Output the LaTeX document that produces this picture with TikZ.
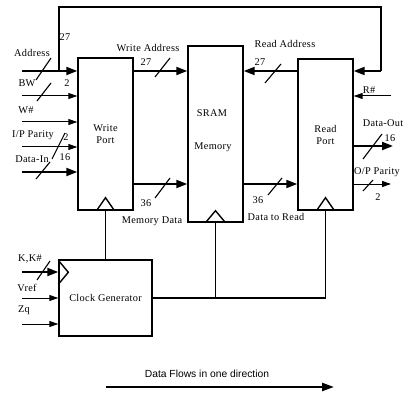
\documentclass[tikz,border=0pt]{standalone}
\usepackage{fontspec}
\setmainfont{Liberation Serif}[LetterSpace=3]
\newfontfamily\flowfont{Liberation Sans}
\usetikzlibrary{arrows.meta,calc}
\newcommand{\lblfont}{\fontsize{10.3}{11}\selectfont}
\begin{document}
\begin{tikzpicture}[x=1pt,y=-1pt,
  blockbox/.style={draw, line width=1.4pt, inner sep=0pt, align=center, font=\lblfont},
  lbl/.style={font=\lblfont, inner sep=0pt},
  bus/.style={line width=2.1pt, -{Triangle[length=11pt,width=8pt]}},
  busplain/.style={line width=2.1pt},
  sig/.style={line width=1pt, -{Triangle[length=9pt,width=6pt]}},
  slash/.style={line width=1.1pt},
  clk/.style={line width=1.4pt}]
\useasboundingbox (0,0) rectangle (407,393);

% blocks
\node[blockbox, minimum width=55pt, minimum height=152pt] (wp) at (105.5,134) {Write\\[1pt]Port};
\node[blockbox, minimum width=55pt, minimum height=176pt] (sram) at (215.5,134) {};
\node[lbl] (sramA) at (212,113) {SRAM};
\node[lbl] (sramB) at (213,147) {Memory};
\node[blockbox, minimum width=55pt, minimum height=151pt] (rp) at (325.5,134.5) {Read\\[1pt]Port};
\node[blockbox, minimum width=93pt, minimum height=76pt] (cg) at (105.5,298) {Clock Generator};

% clock markers
\draw[clk] ($(wp.south)+(-9,0)$) -- ($(wp.south)+(0,-13)$) -- ($(wp.south)+(9,0)$);
\draw[clk] ($(sram.south)+(-10,0)$) -- ($(sram.south)+(0,-12)$) -- ($(sram.south)+(10,0)$);
\draw[clk] ($(rp.south)+(-9,0)$) -- ($(rp.south)+(0,-13)$) -- ($(rp.south)+(9,0)$);
\draw[clk] ($(cg.north west)+(0,1)$) -- ($(cg.north west)+(10,13)$) -- ($(cg.north west)+(0,25)$);

% coordinates
\coordinate (addrIn) at (22,71);
\coordinate (fbA) at (59,71);
\coordinate (fbTop) at (59,7);
\coordinate (fbR) at (381,7);
\coordinate (bwIn) at (22,96);
\coordinate (wIn) at (22,122);
\coordinate (ipIn) at (22,147);
\coordinate (diIn) at (22,172);
\coordinate (mdy) at (0,184);
\coordinate (rIn) at (391,96);
\coordinate (doOut) at (393,146);
\coordinate (opOut) at (391,184);
\coordinate (kIn) at (22,272);
\coordinate (vIn) at (22,298);
\coordinate (zIn) at (22,324);
\coordinate (flowA) at (106,387);
\coordinate (flowB) at (334,387);

% left inputs
\draw[bus] (addrIn) -- (addrIn -| wp.west);
\draw[busplain] (fbA) -- (fbTop) -- (fbR) -- (fbR |- fbA);
\draw[bus] (fbR |- fbA) -- (rp.east |- fbA);
\draw[sig] (bwIn) -- (bwIn -| wp.west);
\draw[sig] (wIn) -- (wIn -| wp.west);
\draw[sig] (ipIn) -- (ipIn -| wp.west);
\draw[bus] (diIn) -- (diIn -| wp.west);

% internal buses
\draw[bus] (wp.east |- fbA) -- (sram.west |- fbA);
\draw[bus] (wp.east |- mdy) -- (sram.west |- mdy);
\draw[bus] (rp.west |- fbA) -- (sram.east |- fbA);
\draw[bus] (sram.east |- mdy) -- (rp.west |- mdy);

% right side
\draw[sig] (rIn) -- (rIn -| rp.east);
\draw[bus] (rp.east |- doOut) -- (doOut);
\draw[sig] (rp.east |- opOut) -- (opOut);

% clock generator inputs
\draw[bus] (kIn) -- (kIn -| cg.west);
\draw[sig] (vIn) -- (vIn -| cg.west);
\draw[sig] (zIn) -- (zIn -| cg.west);

% clock distribution
\draw[clk] (wp.south) -- (cg.north -| wp.south);
\draw[clk] (cg.east) -- (rp.south |- cg.east) -- (rp.south);
\draw[clk] (sram.south) -- (sram.south |- cg.east);

% slashes
\draw[slash] (36,80) -- (51,58);
\draw[slash] (37,101) -- (51,83);
\draw[slash] (52,159) -- (65,133);
\draw[slash] (36,179) -- (50,162);
\draw[slash] (155,77) -- (170,58);
\draw[slash] (155,198) -- (170,178);
\draw[slash] (265,83) -- (281,64);
\draw[slash] (268,195) -- (282,178);
\draw[slash] (363,159) -- (382,134);
\draw[slash] (363,191) -- (373,180);
\draw[slash] (37,280) -- (50,261);

% labels
\node[lbl] (l27a) at (65,37) {27};
\node[lbl] (lAddr) at (32,53) {Address};
\node[lbl] (lBW) at (27,83) {BW};
\node[lbl] (l2a) at (67,83) {2};
\node[lbl] (lW) at (26,110) {W\#};
\node[lbl] (lIP) at (33,135) {I/P Parity};
\node[lbl] (l2b) at (66,137) {2};
\node[lbl] (lDI) at (32,159) {Data-In};
\node[lbl] (l16a) at (65,157) {16};
\node[lbl] (lWA) at (148,48) {Write Address};
\node[lbl] (l27b) at (146,62) {27};
\node[lbl] (l36a) at (146,203) {36};
\node[lbl] (lMD) at (152,221) {Memory Data};
\node[lbl] (lRA) at (285,44) {Read Address};
\node[lbl] (l27c) at (260,62) {27};
\node[lbl] (l36b) at (258,200) {36};
\node[lbl] (lDR) at (276,217) {Data to Read};
\node[lbl] (lR) at (369,90) {R\#};
\node[lbl] (lDO) at (383,123) {Data-Out};
\node[lbl] (l16b) at (390,138) {16};
\node[lbl] (lOP) at (377,172) {O/P Parity};
\node[lbl] (l2c) at (378,197) {2};
\node[lbl] (lK) at (30,259) {K,K\#};
\node[lbl] (lV) at (27,288) {Vref};
\node[lbl] (lZ) at (24,310) {Zq};

% data flow note
\node[font=\flowfont\fontsize{10.3}{11}\selectfont, inner sep=0pt] (flowTxt) at (207,374) {Data Flows in one direction};
\draw[line width=2.3pt, -{Triangle[length=12pt,width=8pt]}] (flowA) -- (flowB);
\end{tikzpicture}
\end{document}
